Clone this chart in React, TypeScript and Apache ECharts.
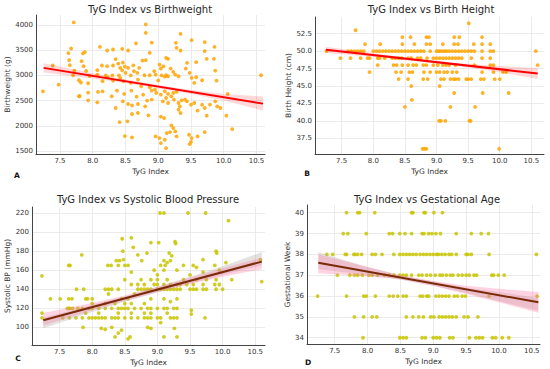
import React, { useEffect, useRef } from "react";
import * as echarts from "echarts";

// ---------- tick labels ----------
const xTicks = [7.5, 8.0, 8.5, 9.0, 9.5, 10.0, 10.5];
const bwTicks = [1500, 2000, 2500, 3000, 3500, 4000];
const bhTicks = [37.5, 40.0, 42.5, 45.0, 47.5, 50.0, 52.5];
const sbpTicks = [100, 120, 140, 160, 180, 200, 220];
const gaTicks = [34, 35, 36, 37, 38, 39, 40];

const titles = [
  "TyG Index vs Birthweight",
  "TyG Index vs Birth Height",
  "TyG Index vs Systolic Blood Pressure",
  "TyG Index vs Gestational Age",
];
const yNames = ["Birthweight (g)", "Birth Height (cm)", "Systolic BP (mmHg)", "Gestational Week"];
const panelLetters = ["A", "B", "C", "D"];

// ---------- A: birthweight points [TyG, g] ----------
const bwPoints = [
  [7.24, 2685], [7.39, 3197], [7.48, 2818], [7.63, 3442], [7.67, 3535], [7.64, 3303], [7.65, 3203], [7.71, 4053],
  [7.72, 3097], [7.7, 3000], [7.85, 3436], [7.88, 3462], [7.83, 3283], [7.86, 3183], [7.79, 2904], [7.82, 2860],
  [7.93, 2845], [7.93, 2659], [7.8, 2592], [7.93, 2506], [7.79, 2586], [7.9, 3090], [7.95, 2990],
  [8.11, 3568], [8.22, 3495], [8.31, 3515], [8.45, 3528], [8.54, 3495], [8.66, 3635], [8.76, 3296], [8.81, 3303],
  [8.81, 4013], [8.81, 3847], [8.9, 3650], [8.87, 3450],
  [8.07, 3104], [8.07, 3017], [8.14, 3197], [8.22, 3183], [8.31, 3197], [8.35, 3323], [8.39, 3236], [8.42, 3150],
  [8.46, 3256], [8.49, 3177], [8.54, 3150], [8.63, 3084], [8.71, 3150], [8.79, 3004], [8.87, 3004], [8.45, 3100],
  [8.5, 3050], [8.58, 3000], [8.62, 3200], [8.68, 3050], [8.4, 3000], [8.3, 3000], [8.2, 3000],
  [8.23, 2964], [8.15, 2885], [8.31, 2898], [8.42, 2951], [8.47, 2885], [8.58, 2851], [8.69, 2918], [8.74, 2785],
  [8.87, 2765], [8.9, 2700],
  [8.08, 2672], [8.15, 2685], [8.29, 2586], [8.37, 2699], [8.48, 2632], [8.59, 2699], [8.67, 2579], [8.77, 2619],
  [8.83, 2500], [8.9, 2520],
  [8.07, 2466], [8.35, 2353], [8.46, 2486], [8.54, 2433], [8.6, 2406], [8.69, 2433], [8.8, 2387], [8.69, 2254],
  [8.6, 2234], [8.85, 2207], [8.41, 2074], [8.53, 2088], [8.49, 1796], [8.6, 1769],
  [9.34, 3827], [9.27, 3648], [9.28, 3548], [9.34, 3495], [9.51, 3701], [9.71, 3661], [9.71, 3482], [9.86, 3568],
  [9.85, 3329], [9.74, 3329], [9.87, 3097], [9.89, 2898], [10.57, 3004], [9.44, 3250], [9.58, 3263], [9.42, 3137],
  [9.48, 3050], [9.51, 2951], [9.58, 2964], [9.67, 2904], [9.55, 2851],
  [9.02, 3216], [9.04, 3137], [9.1, 2977], [9.12, 3004], [9.15, 2984], [9.23, 3070], [9.26, 3017], [9.31, 2984],
  [8.96, 3017], [8.94, 3084], [9.15, 3329], [9.19, 3137], [9.12, 3349], [9.05, 3000], [9.08, 3180], [9.0, 2900],
  [8.95, 2718], [8.97, 2652], [9.04, 2619], [9.1, 2685], [9.15, 2632], [9.2, 2586], [9.23, 2652], [9.28, 2672],
  [9.12, 2552], [9.07, 2486], [9.15, 2453], [9.24, 2519], [9.31, 2453], [9.36, 2506], [9.41, 2520], [9.44, 2486],
  [9.33, 2387], [9.31, 2320], [9.34, 2254], [9.5, 2420], [9.55, 2453], [9.67, 2420], [9.9, 2387], [9.95, 2353],
  [10.04, 2200], [10.13, 1935], [10.06, 2632], [9.87, 2486], [9.79, 2420], [9.71, 2353], [9.74, 2200], [9.6, 2300],
  [9.04, 2181], [9.09, 2154], [9.2, 2008], [9.23, 1955], [9.26, 1889], [9.28, 1789], [9.13, 1855], [9.18, 1875],
  [8.96, 1789], [9.02, 1756], [9.1, 1723], [9.12, 1556], [9.04, 1656], [9.47, 1822], [9.48, 1636], [9.51, 1756],
  [9.6, 1789], [9.71, 1875], [9.5, 1680],
];
const bwFitX = [7.25, 10.6];
const bwFitY = [3150, 2440];
const bwBandX = [7.25, 8.0, 8.5, 9.0, 9.5, 10.0, 10.6];
const bwBandLow = [3060, 2941, 2850, 2747, 2633, 2502, 2300];
const bwBandHigh = [3240, 3041, 2920, 2811, 2713, 2632, 2580];

// ---------- B: birth height rows (cm -> TyG values) ----------
const bhRow54 = [9.51];
const bhRow53 = [7.72];
const bhRow52 = [8.46, 8.59, 8.84, 8.88, 9.28, 9.36, 9.72];
const bhRow51 = [7.87, 8.11, 8.46, 8.65, 8.84, 8.9, 9.1, 9.28, 9.34, 9.59, 9.72, 9.85];
const bhRow50 = [7.26, 7.6, 7.65, 7.7, 7.75, 7.8, 7.85, 8.0, 8.05, 8.1, 8.15, 8.2, 8.25, 8.3, 8.35, 8.4, 8.45, 8.5,
  8.55, 8.6, 8.65, 8.7, 8.75, 8.8, 8.9, 9.0, 9.03, 9.06, 9.1, 9.13, 9.16, 9.2, 9.25, 9.3, 9.35, 9.4, 9.45, 9.5, 9.55,
  9.6, 9.72, 9.85, 9.9, 10.57];
const bhRow49 = [7.48, 7.64, 7.8, 7.91, 7.94, 8.07, 8.1, 8.18, 8.3, 8.35, 8.4, 8.45, 8.55, 8.6, 8.7, 8.75, 8.85,
  8.95, 9.0, 9.05, 9.1, 9.15, 9.2, 9.25, 9.3, 9.35, 9.4, 9.55, 9.72, 9.85];
const bhRow48 = [8.07, 8.32, 8.37, 8.46, 8.55, 8.63, 8.68, 8.79, 8.84, 8.95, 9.02, 9.1, 9.15, 9.2, 9.3, 9.6, 9.85,
  9.9, 10.6];
const bhRow47 = [7.94, 8.36, 8.44, 8.57, 8.62, 8.8, 8.9, 9.0, 9.05, 9.12, 9.17, 9.25, 9.32, 9.72, 9.9, 10.05, 10.1];
const bhRow46 = [8.4, 8.55, 8.79, 8.86, 9.07, 9.12, 9.22, 9.27, 9.3, 9.35, 9.47, 9.5, 9.55, 9.7, 9.75, 9.92, 10.0];
const bhRow45 = [8.6, 9.05];
const bhRow44 = [9.28, 9.73, 10.14];
const bhRow43 = [8.61];
const bhRow42 = [8.5, 9.22, 9.61];
const bhRow40 = [9.04, 9.07, 9.14, 9.52, 9.54];
const bhRow36 = [8.78, 8.81, 8.84, 9.99];
const bhRows: [number, number[]][] = [
  [54, bhRow54], [53, bhRow53], [52, bhRow52], [51, bhRow51], [50, bhRow50], [49, bhRow49], [48, bhRow48],
  [47, bhRow47], [46, bhRow46], [45, bhRow45], [44, bhRow44], [43, bhRow43], [42, bhRow42], [40, bhRow40], [36, bhRow36],
];
const bhFitX = [7.25, 10.6];
const bhFitY = [50.2, 46.8];
const bhBandX = [7.25, 8.0, 8.5, 9.0, 9.5, 10.0, 10.6];
const bhBandLow = [49.75, 49.19, 48.75, 48.24, 47.67, 46.96, 46.0];
const bhBandHigh = [50.65, 49.69, 49.11, 48.6, 48.17, 47.86, 47.6];

// ---------- C: systolic BP points [TyG, mmHg] ----------
const sbpPoints = [
  [7.23, 154], [7.23, 115], [7.23, 110], [7.36, 130], [7.51, 130], [7.64, 165], [7.84, 176], [7.86, 100],
  [7.64, 120], [7.66, 120], [7.64, 130], [7.69, 130], [7.76, 140], [7.87, 140], [7.9, 130], [7.93, 130],
  [7.55, 110], [7.65, 110], [7.75, 110], [7.85, 110], [7.95, 110], [8.0, 110], [8.05, 110], [8.1, 110], [8.15, 110],
  [8.2, 110], [8.3, 110], [8.35, 110], [8.4, 110], [8.5, 110], [8.6, 110], [8.7, 110], [8.8, 110], [8.85, 110],
  [8.9, 110], [9.0, 110], [9.05, 110], [9.2, 110], [9.25, 110], [9.3, 110], [9.73, 110],
  [7.62, 120], [7.7, 120], [7.78, 120], [7.85, 120], [7.95, 120], [8.0, 120], [8.1, 120], [8.2, 120], [8.3, 120],
  [8.4, 120], [8.45, 120], [8.5, 120], [8.55, 120], [8.65, 120], [8.75, 120], [8.85, 120], [8.9, 120], [9.0, 120],
  [9.1, 120], [9.15, 120], [9.25, 120], [9.3, 120], [9.52, 118],
  [8.0, 125], [8.2, 125], [8.35, 125], [8.5, 125], [8.6, 125], [8.8, 125], [9.2, 127],
  [7.9, 115], [8.1, 115], [8.4, 115], [8.6, 115], [8.8, 115], [8.9, 115], [9.15, 115], [9.52, 114],
  [8.0, 130], [8.45, 130], [8.55, 130], [8.9, 130], [9.1, 130], [9.3, 130], [8.25, 135], [8.65, 135],
  [8.2, 140], [8.25, 140], [8.3, 140], [8.4, 140], [8.7, 140], [8.75, 140], [8.8, 140], [8.85, 140], [8.9, 140],
  [9.0, 140], [9.05, 140], [9.1, 140], [9.15, 140], [9.2, 140], [9.25, 140], [9.3, 140], [9.35, 140], [9.5, 140],
  [9.55, 140], [9.6, 140], [9.7, 140], [9.75, 140], [9.9, 140], [10.0, 140],
  [8.6, 145], [8.7, 145], [8.8, 145], [8.95, 145], [9.0, 145], [9.1, 145], [9.2, 145], [9.3, 145], [9.35, 145],
  [9.45, 145], [9.55, 145], [9.7, 145], [9.88, 145], [9.95, 145], [10.6, 148],
  [8.5, 150], [8.75, 150], [8.9, 150], [9.0, 150], [9.15, 150], [9.4, 150], [9.6, 150], [9.75, 150], [9.9, 150],
  [10.14, 150],
  [8.6, 158], [8.95, 160], [9.0, 155], [9.1, 160], [9.3, 160], [9.5, 155], [9.7, 158], [9.95, 160],
  [7.66, 165], [8.24, 165], [8.29, 165], [8.4, 165], [8.5, 165], [8.55, 165], [9.05, 165], [9.12, 165], [9.4, 165],
  [9.55, 165], [9.6, 163], [9.88, 165], [10.05, 168],
  [8.37, 170], [8.42, 170], [8.48, 171], [8.76, 170], [9.1, 170], [9.2, 170], [9.15, 168], [9.7, 171], [10.58, 171],
  [8.47, 180], [8.7, 176], [8.84, 178], [9.18, 178], [9.22, 175], [9.9, 180], [9.91, 178],
  [8.46, 193], [8.6, 194], [8.63, 184], [8.9, 189], [9.02, 189], [9.27, 190], [9.28, 188],
  [9.04, 220], [9.1, 220], [9.47, 220], [9.74, 220], [10.09, 212],
  [8.14, 99], [8.2, 98], [8.3, 100], [8.35, 90], [8.4, 94], [8.45, 97], [8.55, 88], [8.58, 90], [8.85, 100],
  [8.9, 99], [9.1, 90], [9.26, 99], [9.3, 90], [9.05, 105],
];
const sbpFitX = [7.25, 10.6];
const sbpFitY = [107.5, 169];
const sbpBandX = [7.25, 8.0, 8.5, 9.0, 9.5, 10.0, 10.6];
const sbpBandLow = [102, 118, 128, 137, 145.5, 153, 161];
const sbpBandHigh = [115, 125.5, 133.5, 142.5, 152, 162, 173];
const sbpBand2Low = [99, 116, 127, 136.5, 146, 155, 165];
const sbpBand2High = [110, 123.5, 132.5, 142.5, 153, 164, 179];

// ---------- D: gestational week rows ----------
const gaRow40 = [7.68, 7.85, 7.88, 8.11, 8.67, 8.69, 8.86, 8.88, 9.01, 9.14];
const gaRow39 = [7.63, 7.7, 7.98, 8.33, 8.38, 8.49, 8.57, 8.67, 8.83, 8.86, 8.93, 8.98, 9.04, 9.11, 9.35, 9.58, 9.73, 9.84];
const gaRow38 = [7.38, 7.47, 7.66, 7.68, 7.79, 7.81, 7.85, 7.91, 8.07, 8.12, 8.22, 8.4, 8.49, 8.54, 8.59, 8.64, 8.69,
  8.74, 8.8, 8.85, 8.9, 8.95, 9.0, 9.05, 9.08, 9.13, 9.18, 9.24, 9.28, 9.35, 9.5, 9.53, 9.58, 9.85, 10.57];
const gaRow37 = [7.54, 7.73, 7.8, 7.85, 7.92, 8.02, 8.07, 8.15, 8.26, 8.33, 8.4, 8.49, 8.54, 8.59, 8.67, 8.78, 8.83,
  8.9, 8.96, 9.03, 9.1, 9.14, 9.2, 9.26, 9.3, 9.38, 9.44, 9.5, 9.55, 9.62, 9.66, 9.89, 9.92, 9.99, 10.08];
const gaRow36 = [7.24, 7.68, 7.94, 7.98, 8.12, 8.33, 8.39, 8.46, 8.54, 8.59, 8.8, 8.84, 8.9, 8.93, 9.04, 9.09, 9.14,
  9.19, 9.24, 9.32, 9.37, 9.44, 9.49, 9.85, 10.58];
const gaRow35 = [7.8, 7.94, 8.07, 8.14, 8.59, 8.69, 8.78, 8.85, 8.96, 9.01, 9.09, 9.14, 9.19, 9.24, 9.29, 9.35, 9.47,
  9.53, 9.68];
const gaRow34 = [7.93, 8.49, 8.54, 8.59, 8.83, 8.88, 9.0, 9.05, 9.1, 9.25, 9.3, 9.55, 9.65, 9.7, 9.75, 9.9, 9.95,
  10.05, 10.15];
const gaRows: [number, number[]][] = [
  [40, gaRow40], [39, gaRow39], [38, gaRow38], [37, gaRow37], [36, gaRow36], [35, gaRow35], [34, gaRow34],
];
const gaFitX = [7.25, 10.6];
const gaFitY = [37.6, 35.7];
const gaBandX = [7.25, 8.0, 8.5, 9.0, 9.5, 10.0, 10.6];
const gaBandLow = [37.1, 36.95, 36.8, 36.5, 36.1, 35.7, 35.2];
const gaBandHigh = [38.0, 37.4, 37.0, 36.72, 36.5, 36.35, 36.2];
const gaBand2Low = [37.3, 37.0, 36.8, 36.5, 36.15, 35.75, 35.3];
const gaBand2High = [38.1, 37.4, 37.0, 36.7, 36.4, 36.2, 35.9];

// ---------- layout ----------
const grids = [
  { left: 36, top: 15, width: 229, height: 139 },
  { left: 315, top: 17, width: 229, height: 137 },
  { left: 32, top: 207, width: 233, height: 138 },
  { left: 307, top: 205, width: 233, height: 139 },
];
const xRanges = [[7.134, 10.63], [7.078, 10.7], [7.077, 10.65], [7.078, 10.625]];
const yRanges = [[1440, 4200], [35.25, 54.9], [81.5, 226.3], [33.7, 40.37]];
const yTickSets = [bwTicks, bhTicks, sbpTicks, gaTicks];
const yDecimals = [0, 1, 0, 0];
const yNameGaps = [25, 21, 21, 15];

const FONT = "DejaVu Sans";
const TEXT = "#333333";

function rowsToPoints(rows: [number, number[]][]) {
  const out: number[][] = [];
  rows.forEach(([y, xs]) => xs.forEach((x) => out.push([x, y])));
  return out;
}

function bandSeries(idx: number, xs: number[], lo: number[], hi: number[], color: string, z: number) {
  return {
    type: "custom",
    xAxisIndex: idx,
    yAxisIndex: idx,
    silent: true,
    z,
    data: [[xs[0], lo[0]]],
    renderItem: (_p: any, api: any) => {
      const pts: number[][] = [];
      xs.forEach((x, i) => pts.push(api.coord([x, hi[i]])));
      for (let i = xs.length - 1; i >= 0; i--) pts.push(api.coord([xs[i], lo[i]]));
      return { type: "polygon", shape: { points: pts }, style: { fill: color } };
    },
  };
}

function fitSeries(idx: number, xs: number[], ys: number[], color: string) {
  return {
    type: "line",
    xAxisIndex: idx,
    yAxisIndex: idx,
    data: xs.map((x, i) => [x, ys[i]]),
    symbol: "none",
    silent: true,
    z: 5,
    lineStyle: { color, width: 2 },
  };
}

function scatterSeries(idx: number, pts: number[][], color: string) {
  return {
    type: "scatter",
    xAxisIndex: idx,
    yAxisIndex: idx,
    data: pts,
    symbolSize: 3.8,
    z: 2,
    itemStyle: { color, opacity: 0.85 },
  };
}

export default function App() {
  const ref = useRef<HTMLDivElement>(null);
  useEffect(() => {
    document.body.style.margin = "0";
    const chart = echarts.init(ref.current!, undefined, { renderer: "svg" });
    const xAxis = grids.map((_, i) => ({
      type: "value",
      gridIndex: i,
      min: xRanges[i][0],
      max: xRanges[i][1],
      name: "TyG Index",
      nameLocation: "middle",
      nameGap: 13,
      nameTextStyle: { fontFamily: FONT, fontSize: 7.5, color: TEXT },
      axisLine: { show: true, onZero: false, lineStyle: { color: "#444", width: 1 } },
      axisTick: { show: false, customValues: xTicks },
      axisLabel: {
        customValues: xTicks,
        fontFamily: FONT,
        fontSize: 7,
        color: TEXT,
        margin: 3,
        formatter: (v: number) => v.toFixed(1),
      },
      splitLine: { show: true, lineStyle: { color: "#e6e6e6", width: 0.8 } },
    }));
    const yAxis = grids.map((_, i) => ({
      type: "value",
      gridIndex: i,
      min: yRanges[i][0],
      max: yRanges[i][1],
      name: yNames[i],
      nameLocation: "middle",
      nameGap: yNameGaps[i],
      nameTextStyle: { fontFamily: FONT, fontSize: 7.5, color: TEXT },
      axisLine: { show: true, onZero: false, lineStyle: { color: "#444", width: 1 } },
      axisTick: { show: false, customValues: yTickSets[i] },
      axisLabel: {
        customValues: yTickSets[i],
        fontFamily: FONT,
        fontSize: 7,
        color: TEXT,
        margin: 3,
        formatter: (v: number) => v.toFixed(yDecimals[i]),
      },
      splitLine: { show: true, lineStyle: { color: "#e6e6e6", width: 0.8 } },
    }));
    const orange = "#ffa500";
    const olive = "#c8c400";
    const series: any[] = [
      scatterSeries(0, bwPoints, orange),
      bandSeries(0, bwBandX, bwBandLow, bwBandHigh, "rgba(255,0,0,0.15)", 3),
      fitSeries(0, bwFitX, bwFitY, "#ff0000"),
      scatterSeries(1, rowsToPoints(bhRows), orange),
      bandSeries(1, bhBandX, bhBandLow, bhBandHigh, "rgba(255,0,0,0.15)", 3),
      fitSeries(1, bhFitX, bhFitY, "#ff0000"),
      scatterSeries(2, sbpPoints, olive),
      bandSeries(2, sbpBandX, sbpBand2Low, sbpBand2High, "rgba(180,170,160,0.35)", 3),
      bandSeries(2, sbpBandX, sbpBandLow, sbpBandHigh, "rgba(255,110,160,0.3)", 4),
      fitSeries(2, sbpFitX, sbpFitY, "#7a2a08"),
      scatterSeries(3, rowsToPoints(gaRows), olive),
      bandSeries(3, gaBandX, gaBand2Low, gaBand2High, "rgba(180,170,160,0.35)", 3),
      bandSeries(3, gaBandX, gaBandLow, gaBandHigh, "rgba(255,110,160,0.3)", 4),
      fitSeries(3, gaFitX, gaFitY, "#7a2a08"),
    ];
    const titlePos = [[150, 9], [431, 9], [148, 199], [427, 199]];
    const letterPos = [[17, 175], [307, 173], [18, 358], [308, 362]];
    const graphic: any[] = [];
    titles.forEach((t, i) =>
      graphic.push({
        type: "text",
        x: titlePos[i][0],
        y: titlePos[i][1],
        style: { text: t, fontFamily: FONT, fontSize: 10, fill: "#262626", align: "center", verticalAlign: "middle" },
      })
    );
    panelLetters.forEach((t, i) =>
      graphic.push({
        type: "text",
        x: letterPos[i][0],
        y: letterPos[i][1],
        style: { text: t, fontFamily: FONT, fontSize: 7.5, fontWeight: "bold", fill: "#111", align: "center", verticalAlign: "middle" },
      })
    );
    chart.setOption({
      animation: false,
      backgroundColor: "#ffffff",
      grid: grids.map((g) => ({ ...g, containLabel: false })),
      xAxis,
      yAxis,
      series,
      graphic,
    });
    return () => chart.dispose();
  }, []);
  return <div ref={ref} style={{ width: 550, height: 369 }} />;
}
